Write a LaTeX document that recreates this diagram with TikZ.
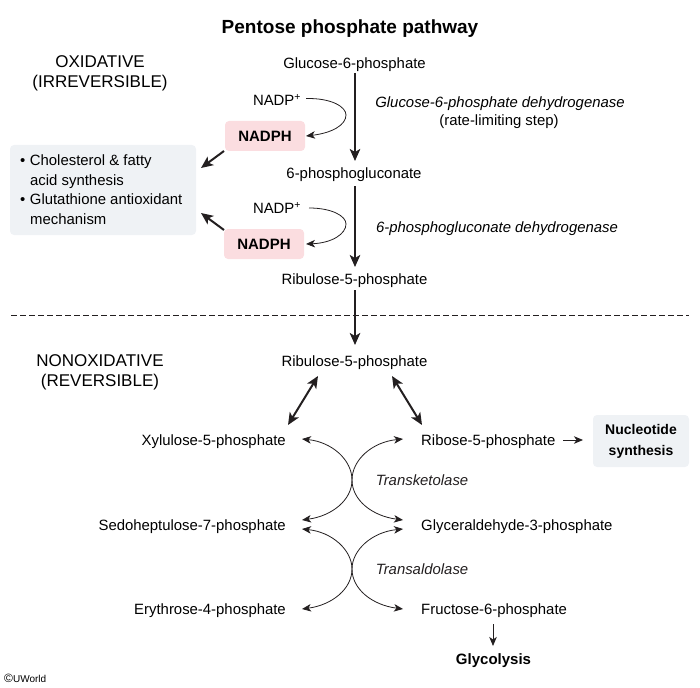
\documentclass[tikz,border=0pt]{standalone}
\usepackage{fontspec}
\setmainfont{Liberation Sans}
\usetikzlibrary{arrows.meta}
\definecolor{ink}{HTML}{231F20}
\definecolor{pinkbox}{HTML}{FBDDE0}
\definecolor{greybox}{HTML}{EFF2F5}
\tikzset{
  x=1pt,y=-1pt,
  lbl/.style={font=\fontsize{14.9}{17}\selectfont,text=black,inner sep=0pt,align=center},
  ital/.style={lbl,font=\fontsize{14.9}{17}\selectfont\itshape},
  heavy/.style={draw=ink,line width=2pt,-{Stealth[length=12pt,width=10.5pt,inset=3pt]}},
  heavytwo/.style={draw=ink,line width=2pt,{Stealth[length=12pt,width=10.5pt,inset=3pt]}-{Stealth[length=12pt,width=10.5pt,inset=3pt]}},
  thin arc/.style={draw=ink,line width=0.8pt,{Stealth[length=9pt,width=7.5pt,inset=2.5pt]}-{Stealth[length=9pt,width=7.5pt,inset=2.5pt]}},
  half arc/.style={draw=ink,line width=0.8pt,-{Stealth[length=9pt,width=7.5pt,inset=2.5pt]}},
  pinknode/.style={fill=pinkbox,rounded corners=4pt,minimum width=80pt,minimum height=30pt,inner sep=0pt,font=\fontsize{15}{17}\selectfont\bfseries},
  greynode/.style={fill=greybox,rounded corners=4pt,inner sep=0pt},
}
\begin{document}
\begin{tikzpicture}
\useasboundingbox (0,0) rectangle (700,687);
\node[lbl,font=\fontsize{19}{22}\selectfont\bfseries] (title) at (350,29) {Pentose phosphate pathway};
\node[lbl,font=\fontsize{17}{20}\selectfont] (ox) at (100,73) {OXIDATIVE\\(IRREVERSIBLE)};
\node[lbl,font=\fontsize{17}{20}\selectfont] (nonox) at (100,372) {NONOXIDATIVE\\(REVERSIBLE)};
\node[lbl] (g6p) at (354.5,65) {Glucose-6-phosphate};
\node[lbl] (pg) at (354,175) {6-phosphogluconate};
\node[lbl] (ru1) at (354.5,281) {Ribulose-5-phosphate};
\node[lbl] (ru2) at (354.5,363) {Ribulose-5-phosphate};
\node[lbl,anchor=east] (xyl) at (286,442) {Xylulose-5-phosphate};
\node[lbl,anchor=east] (sed) at (286,527) {Sedoheptulose-7-phosphate};
\node[lbl,anchor=east] (ery) at (286,611) {Erythrose-4-phosphate};
\node[lbl,anchor=west] (rib) at (421,442) {Ribose-5-phosphate};
\node[lbl,anchor=west] (gly) at (421,527) {Glyceraldehyde-3-phosphate};
\node[lbl,anchor=west] (fru) at (421,611) {Fructose-6-phosphate};
\node[lbl,font=\fontsize{15}{17}\selectfont\bfseries] (glycolysis) at (493.5,661) {Glycolysis};
\node[ital] (e1) at (500,104) {Glucose-6-phosphate dehydrogenase};
\node[lbl] (e1b) at (499,122) {(rate-limiting step)};
\node[ital] (e2) at (497,229) {6-phosphogluconate dehydrogenase};
\node[ital,text=ink] (tk) at (422,480) {Transketolase};
\node[ital,text=ink] (ta) at (422,569) {Transaldolase};
\node[lbl] (nadp1) at (277,100) {NADP\textsuperscript{+}};
\node[lbl] (nadp2) at (277,208) {NADP\textsuperscript{+}};
\node[pinknode] (nadph1) at (265,136) {NADPH};
\node[pinknode] (nadph2) at (264,244) {NADPH};
\node[greynode,minimum width=186pt,minimum height=90pt] (uses) at (103,190) {};
\node[lbl,anchor=north west,align=left] (usetext) at (20,155) {•\hspace{4.5pt}Cholesterol \& fatty\\[2.4pt]\hspace{10pt}acid synthesis\\[2.4pt]•\hspace{4.5pt}Glutathione antioxidant\\[2.4pt]\hspace{10pt}mechanism};
\node[greynode,minimum width=96pt,minimum height=52pt,align=center,font=\fontsize{14}{21}\selectfont\bfseries] (nuc) at (641,441) {Nucleotide\\synthesis};
\draw[dash pattern=on 5.5pt off 3.5pt,draw=ink,line width=0.8pt] (11,315) coordinate (dl) -- (689,315) coordinate (dr);
% main arrows
\draw[heavy] (355,73) coordinate (a1) -- (355,161) coordinate (a2);
\draw[heavy] (355,186) coordinate (a3) -- (355,267) coordinate (a4);
\draw[heavy] (355,290) coordinate (a5) -- (355,345) coordinate (a6);
% NADP arcs
\coordinate (n1a) at (306,98.5);
\coordinate (n1b) at (306,136);
\draw[half arc] (n1a) .. controls (332,98) and (346,107) .. (346,115) .. controls (346,125) and (332,133) .. (n1b);
\coordinate (n2a) at (309,208);
\coordinate (n2b) at (306,244);
\draw[half arc] (n2a) .. controls (332,208) and (346,216) .. (346,224) .. controls (346,234) and (332,243) .. (n2b);
% NADPH to box
\coordinate (u1) at (201,168);
\coordinate (u2) at (201,213);
\coordinate (p1) at (224,151);
\coordinate (p2) at (224,230);
\draw[heavy] (p1) -- (u1);
\draw[heavy] (p2) -- (u2);
% double arrows
\coordinate (d1a) at (318,376); \coordinate (d1b) at (288,425);
\coordinate (d2a) at (392,376); \coordinate (d2b) at (422,425);
\draw[heavytwo] (d1a) -- (d1b);
\draw[heavytwo] (d2a) -- (d2b);
% crossing arcs
\coordinate (tkc) at (352,480);
\coordinate (tac) at (352,569);
\coordinate (l1) at (302,439); \coordinate (r1) at (403,439);
\coordinate (l2) at (302,520); \coordinate (r2) at (403,520);
\coordinate (l3) at (302,529); \coordinate (r3) at (403,529);
\coordinate (l4) at (302,609); \coordinate (r4) at (403,609);
\draw[thin arc] (l1) .. controls (332,442) and (352,460) .. (tkc) .. controls (352,500) and (332,516) .. (l2);
\draw[thin arc] (r1) .. controls (372,442) and (352,460) .. (tkc) .. controls (352,500) and (372,516) .. (r2);
\draw[thin arc] (l3) .. controls (332,532) and (352,550) .. (tac) .. controls (352,589) and (332,605) .. (l4);
\draw[thin arc] (r3) .. controls (372,532) and (352,550) .. (tac) .. controls (352,589) and (372,605) .. (r4);
% small arrows
\coordinate (rs) at (563,440); \coordinate (rn) at (583,440);
\draw[half arc] (rs) -- (rn);
\coordinate (fs) at (493,624); \coordinate (ft) at (493,646);
\draw[half arc] (fs) -- (ft);
\node[lbl,anchor=west,font=\fontsize{10}{12}\selectfont] (cr) at (4,678) {{\fontsize{12}{12}\selectfont ©}UWorld};
\end{tikzpicture}
\end{document}
